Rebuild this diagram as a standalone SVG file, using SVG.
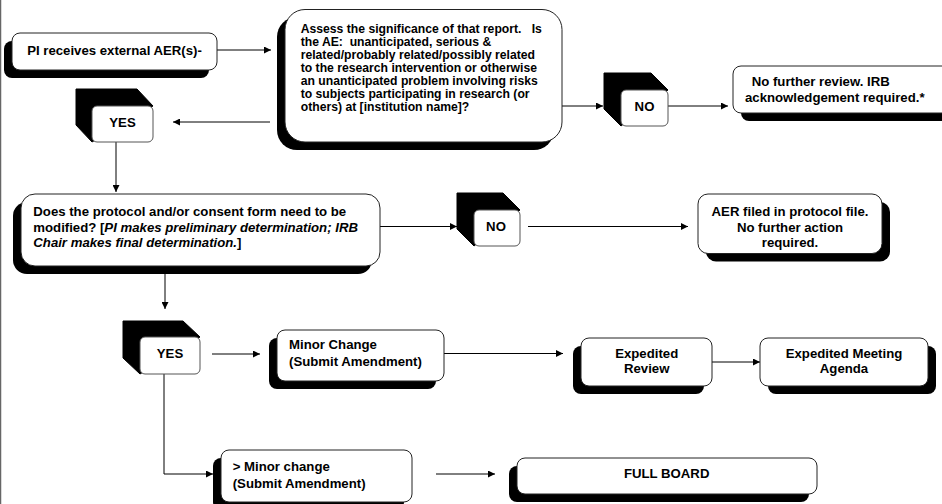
<svg xmlns="http://www.w3.org/2000/svg" width="942" height="504" viewBox="0 0 942 504">
<defs>
<style>
.sh{fill:#000}
.bx{fill:#fff;stroke:#222;stroke-width:1}
.fr{fill:#fff;stroke:#555;stroke-width:1}
.ex{fill:#000;stroke:#000;stroke-width:1;stroke-linejoin:round}
.t{font-family:"Liberation Sans",Arial,sans-serif;font-weight:bold;font-size:13.2px;fill:#000}
.ts{font-family:"Liberation Sans",Arial,sans-serif;font-weight:bold;font-size:12.2px;fill:#000;white-space:pre}
.m{text-anchor:middle}
.i{font-style:italic}
.ln{fill:none;stroke:#000;stroke-width:1}
</style>
<marker id="ah" viewBox="0 0 10 10" refX="10" refY="5" markerWidth="8" markerHeight="7" markerUnits="userSpaceOnUse" orient="auto">
<path d="M0,0 L10,5 L0,10 z" fill="#000"/>
</marker>
</defs>
<rect width="942" height="504" fill="#fff"/>
<line x1="0.5" y1="0" x2="0.5" y2="504" stroke="#666" stroke-width="1.5"/>

<g id="connectors" class="ln">
<line x1="217" y1="50" x2="271" y2="50" marker-end="url(#ah)"/>
<line x1="270" y1="122" x2="173" y2="122" marker-end="url(#ah)"/>
<line x1="116" y1="142" x2="116" y2="192" marker-end="url(#ah)"/>
<line x1="562" y1="106" x2="603" y2="106" marker-end="url(#ah)"/>
<line x1="668" y1="106" x2="728" y2="106" marker-end="url(#ah)"/>
<line x1="380" y1="226.5" x2="457" y2="226.5" marker-end="url(#ah)"/>
<line x1="528" y1="226.5" x2="688" y2="226.5" marker-end="url(#ah)"/>
<line x1="165" y1="266" x2="165" y2="309" marker-end="url(#ah)"/>
<line x1="212" y1="354" x2="260" y2="354" marker-end="url(#ah)"/>
<line x1="444" y1="353.5" x2="563" y2="353.5" marker-end="url(#ah)"/>
<line x1="712" y1="362" x2="760" y2="362" marker-end="url(#ah)"/>
<polyline points="164,374 164,474 213,474" marker-end="url(#ah)"/>
<line x1="436" y1="474" x2="495" y2="474" marker-end="url(#ah)"/>
</g>

<g id="pi">
<rect class="sh" x="4" y="41" width="205" height="37" rx="8"/>
<rect class="bx" x="12" y="33" width="205" height="37" rx="8"/>
<text class="t m" x="114.5" y="54.5">PI receives external AER(s)-</text>
</g>

<g id="assess">
<rect class="sh" x="277" y="17" width="277" height="133" rx="20"/>
<rect class="bx" x="285" y="9.5" width="277" height="132.5" rx="20"/>
<text class="ts" x="300.7" y="33.3" xml:space="preserve">Assess the significance of that report.   Is</text>
<text class="ts" x="300.7" y="46.3" xml:space="preserve">the AE:  unanticipated, serious &amp;</text>
<text class="ts" x="300.7" y="59.3">related/probably related/possibly related</text>
<text class="ts" x="300.7" y="72.3">to the research intervention or otherwise</text>
<text class="ts" x="300.7" y="85.3">an unanticipated problem involving risks</text>
<text class="ts" x="300.7" y="98.3">to subjects participating in research (or</text>
<text class="ts" x="300.7" y="111.3">others) at [institution name]?</text>
</g>

<g id="yes1">
<polygon class="ex" points="76,89 137,89 153,106 92,142 76,125"/>
<rect class="fr" x="92" y="106" width="61" height="36" rx="5"/>
<text class="t m" x="122.5" y="126.5">YES</text>
</g>

<g id="no1">
<polygon class="ex" points="604,73 651,73 668,90 621,126 604,109"/>
<rect class="fr" x="621" y="90" width="47" height="36" rx="5"/>
<text class="t m" x="644.5" y="110.5">NO</text>
</g>

<g id="nofurther">
<rect class="sh" x="741" y="74" width="220" height="47" rx="8"/>
<rect class="bx" x="733" y="66" width="220" height="47" rx="8"/>
<text class="t" x="751.7" y="85.7">No further review. IRB</text>
<text class="t" x="745" y="101.7">acknowledgement required.*</text>
</g>

<g id="does">
<rect class="sh" x="13" y="202" width="359" height="72" rx="14"/>
<rect class="bx" x="21" y="194" width="359" height="72" rx="14"/>
<text class="t" x="33.3" y="216">Does the protocol and/or consent form need to be</text>
<text class="t" x="33.3" y="231.7">modified? [<tspan class="i">PI makes preliminary determination; IRB</tspan></text>
<text class="t" x="33.3" y="247.3"><tspan class="i">Chair makes final determination.</tspan>]</text>
</g>

<g id="no2">
<polygon class="ex" points="457,193 503,193 520,210 474,246 457,229"/>
<rect class="fr" x="474" y="210" width="46" height="36" rx="5"/>
<text class="t m" x="496" y="230.5">NO</text>
</g>

<g id="aer">
<rect class="sh" x="706" y="202" width="184" height="59.5" rx="10"/>
<rect class="bx" x="698" y="194" width="184" height="59.5" rx="10"/>
<text class="t m" x="790" y="216">AER filed in protocol file.</text>
<text class="t m" x="790" y="231.7">No further action</text>
<text class="t m" x="790" y="246.7">required.</text>
</g>

<g id="yes2">
<polygon class="ex" points="123,321 183,321 200,337 140,374 123,358"/>
<rect class="fr" x="140" y="337" width="60" height="37" rx="5"/>
<text class="t m" x="170" y="358">YES</text>
</g>

<g id="minor">
<rect class="sh" x="269" y="338" width="167" height="51" rx="8"/>
<rect class="bx" x="277" y="330" width="167" height="51" rx="8"/>
<text class="t" x="289" y="349.3">Minor Change</text>
<text class="t" x="289" y="365.7">(Submit Amendment)</text>
</g>

<g id="expreview">
<rect class="sh" x="573" y="346" width="131" height="48" rx="8"/>
<rect class="bx" x="581" y="338" width="131" height="48" rx="8"/>
<text class="t m" x="646.7" y="357.7">Expedited</text>
<text class="t m" x="646.7" y="373.3">Review</text>
</g>

<g id="agenda">
<rect class="sh" x="768" y="346" width="168" height="48" rx="8"/>
<rect class="bx" x="760" y="338" width="168" height="48" rx="8"/>
<text class="t m" x="844" y="357.7">Expedited Meeting</text>
<text class="t m" x="844" y="373.3">Agenda</text>
</g>

<g id="majorchange">
<rect class="sh" x="213" y="458" width="191" height="52" rx="8"/>
<rect class="bx" x="221" y="450" width="191" height="52" rx="8"/>
<text class="t" x="232.7" y="470.7">&gt; Minor change</text>
<text class="t" x="232.7" y="487.7">(Submit Amendment)</text>
</g>

<g id="fullboard">
<rect class="sh" x="509" y="466" width="300" height="36" rx="8"/>
<rect class="bx" x="517" y="458" width="300" height="36" rx="8"/>
<text class="t m" x="666.7" y="478.3">FULL BOARD</text>
</g>
</svg>
